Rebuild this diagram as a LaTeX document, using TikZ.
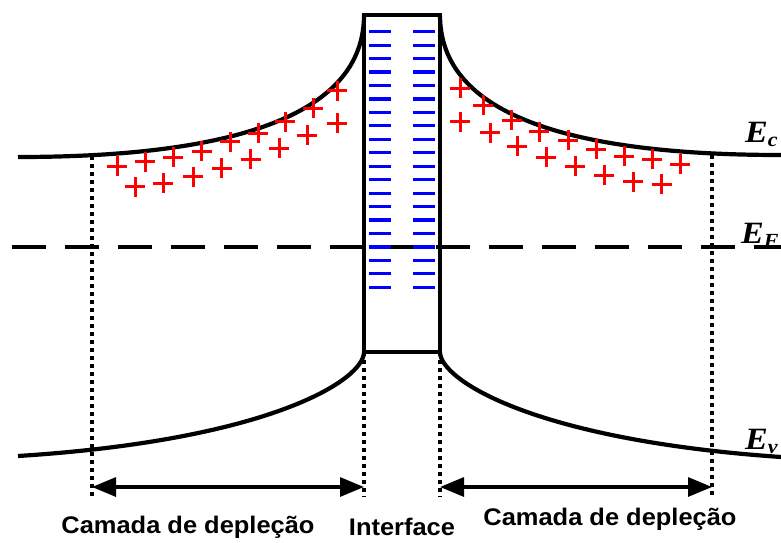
\documentclass[tikz,border=0pt]{standalone}
\usepackage{fontspec}
\setmainfont{Liberation Sans}
\newfontfamily\tnrfont{Liberation Serif}
\usepackage{tikz}
\usetikzlibrary{arrows.meta}

\newcommand{\wide}[1]{\scalebox{1.06}[1]{#1}}
\newcommand{\lev}[1]{{\tnrfont\bfseries\itshape\fontsize{31}{34}\selectfont\scalebox{1.1}[1]{E\raisebox{-0.35ex}{\fontsize{20}{20}\selectfont #1}}}}

\begin{document}
\begin{tikzpicture}[
  x=1pt, y=-1pt,
  band/.style={line width=4.2pt},
  guide/.style={line width=3.5pt, dash pattern=on 4pt off 4pt},
  fermi/.style={line width=4.2pt, dash pattern=on 34pt off 19pt},
  arr/.style={{Triangle[length=24pt,width=19pt]}-{Triangle[length=24pt,width=19pt]}, line width=3.2pt},
  plus/.style={red, line width=3pt},
  minus/.style={blue, line width=3.2pt},
  lbl/.style={inner sep=0pt, font=\bfseries\fontsize{24}{28}\selectfont}
]
\useasboundingbox (0,0) rectangle (781,542);

% band corners and ends
\coordinate (ecA) at (18,157);
\coordinate (ecB) at (781,155);
\coordinate (ecTL) at (364,15);
\coordinate (ecTR) at (440,15);
\coordinate (evA) at (18,456);
\coordinate (evB) at (781,457);
\coordinate (evTL) at (364,352);
\coordinate (evTR) at (440,352);
\coordinate (efA) at (12,247);
\coordinate (efB) at (781,247);

% depletion edges
\coordinate (dL) at (92,156);
\coordinate (dR) at (712,155);
\coordinate (dLb) at (92,497);
\coordinate (dRb) at (712,497);
\coordinate (iLb) at (364,497);
\coordinate (iRb) at (440,497);
\coordinate (wL) at (92,487);
\coordinate (wR) at (712,487);
\coordinate (iL) at (364,487);
\coordinate (iR) at (440,487);

% Fermi level
\draw[fermi] (efA) -- (efB);

% dotted guides
\draw[guide] (dL) -- (dLb);
\draw[guide] (dR) -- (dRb);
\draw[guide] (evTL) -- (iLb);
\draw[guide] (evTR) -- (iRb);

% conduction and valence bands
\draw[band] (ecA) .. controls (270,157) and (364,100) .. (ecTL);
\draw[band] (ecTR) .. controls (440,100) and (534,155) .. (ecB);
\draw[band] (evA) .. controls (270,440) and (364,380) .. (evTL);
\draw[band] (evTR) .. controls (440,380) and (534,440) .. (evB);

% interface
\draw[band] (evTL) rectangle (ecTR);
\foreach \k in {0,...,19}
  \draw[minus] (369,{31.7+13.45*\k}) -- (391,{31.7+13.45*\k})
               (413,{31.7+13.45*\k}) -- (435,{31.7+13.45*\k});

% positive charges
\foreach \px/\py in {117/166, 145/161.7, 173.3/157.3, 201.7/151, 230/141.7,
    258.3/133.3, 285/121.7, 313.3/108.3, 337.3/90.7,
    135/186.7, 163.3/183.3, 193.3/176.7, 221.7/168.3, 250.7/159.3,
    279.3/148.3, 307.3/135, 337.3/123.3,
    460/88.3, 483.3/105, 511.7/120, 539.3/131.7, 568.3/140, 596/149,
    624.3/156, 652.3/159.3, 680/164,
    460/121.7, 490/132.7, 517.3/146, 546/157.3, 575/166, 604/175,
    633.3/181.7, 661.7/184}
  \draw[plus] ({\px-10},\py) -- ({\px+10},\py) (\px,{\py-10}) -- (\px,{\py+10});

% widths
\draw[arr] (wL) -- (iL);
\draw[arr] (iR) -- (wR);

% labels
\node[anchor=base west, inner sep=0pt] (ec) at (745,142) {\lev{c}};
\node[anchor=base west, inner sep=0pt] (ef) at (741,243) {\lev{F}};
\node[anchor=base west, inner sep=0pt] (ev) at (745,449) {\lev{v}};
\node[lbl] (camL) at (188,527) {\wide{Camada de depleção}};
\node[lbl] (inter) at (402,527) {\wide{Interface}};
\node[lbl] (camR) at (610,519) {\wide{Camada de depleção}};
\end{tikzpicture}
\end{document}
